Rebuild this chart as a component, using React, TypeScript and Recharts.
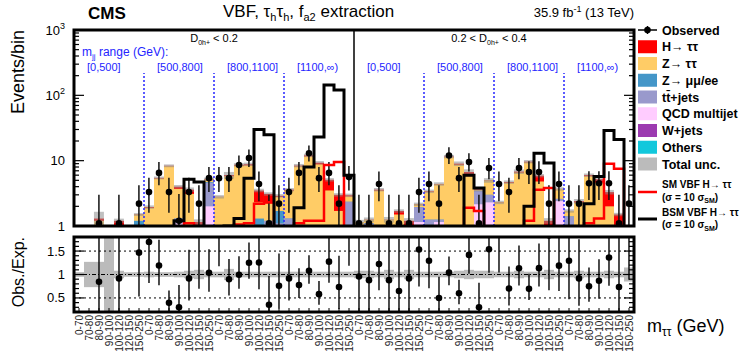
import * as React from "react"
import { Bar, ComposedChart, Line, ReferenceLine, Scatter, XAxis, YAxis } from "recharts"

// 56 bins = 2 D0h+ slices x 4 mjj ranges x 7 mtautau bins
const mttBins = ["0-70", "70-80", "80-90", "90-100", "100-120", "120-150", "150-250"]
const mjjRanges = ["[0,500]", "[500,800]", "[800,1100]", "[1100,∞)"]

// expected yields per process (events/bin)
const qcd = [
  0, 0, 0, 0, 0, 0, 0,
  0, 0, 0, 1.1, 0, 0, 1.95,
  0.2, 0, 0, 0, 0, 0, 0,
  0, 0, 0, 0, 0, 0, 0.4,
  0.25, 0.3, 0, 0.25, 0, 0.5, 1.1,
  0, 1.15, 0, 0, 0, 2.1, 2.3,
  0, 0, 0, 0, 0, 0, 2.4,
  0.6, 0, 0, 0, 0, 0, 0,
]
const ttbar = [
  0.1, 0.2, 0.4, 0, 0.1, 0, 1.0,
  0.3, 0.2, 0.2, 0.2, 0.1, 0.1, 2.6,
  0.4, 0.3, 0.2, 0.2, 0, 1.2, 1.1,
  1.3, 0.3, 0.3, 0.3, 0.2, 0.2, 1.9,
  0.6, 0.8, 0.2, 0.6, 0.2, 0.3, 0.8,
  1.25, 0.1, 0.3, 0.2, 0.3, 1.3, 0.7,
  0.2, 0.2, 0.2, 0.3, 0.2, 0.1, 0.2,
  0.8, 0.2, 0.2, 0.2, 0.2, 0.1, 0.1,
]
const zll = [
  0, 0, 0, 0, 0, 0, 0.2,
  0, 0, 0, 0, 0, 0, 0.1,
  0, 0, 0, 0, 1.3, 0, 0.6,
  0, 0, 0, 0, 0, 0, 0,
  0, 0, 0, 0, 0, 0, 0,
  0, 0, 0, 0, 0, 0, 0,
  0, 0, 0, 0, 0, 0, 0,
  0, 0, 0, 0, 0, 0, 0,
]
const ztt = [
  0.2, 0.6, 0.8, 0.2, 0.9, 0.5, 0.3,
  1.6, 5.1, 8.0, 2.4, 3.0, 0.4, 0.45,
  2.2, 5.5, 8.2, 8.3, 1.0, 1.0, 1.1,
  2.2, 7.9, 11.3, 8.5, 3.3, 1.5, 0.5,
  0.3, 0.15, 3.3, 0.4, 1.3, 0.2, 0.2,
  2.1, 3.1, 11, 8.5, 5.5, 0.1, 2.0,
  2.1, 4.4, 6.4, 9.1, 4.6, 0.3, 1.1,
  0.3, 2.1, 5.6, 4.4, 1.8, 0.6, 0.4,
]
const htt = [
  0, 0, 0.1, 0, 0.2, 0.05, 0,
  0.05, 0.1, 0.1, 0.3, 0.5, 0.65, 0.05,
  0, 0.2, 0.2, 0.3, 1.2, 0.9, 0.1,
  0.1, 0.2, 0.4, 0.5, 1.6, 1.3, 0.1,
  0, 0, 0.1, 0, 0.2, 0.2, 0,
  0.05, 0.05, 0.2, 0.3, 0.9, 0.1, 0,
  0, 0.1, 0.2, 0.2, 1.1, 0.8, 0,
  0, 0.1, 0.2, 0.6, 1.3, 0.8, 0.4,
]
const wjets = [
  0, 0, 0, 0, 0, 0, 0,
  0, 0, 0, 0, 0, 0, 0.05,
  0, 0, 0, 0, 0, 0, 0,
  0, 0, 0, 0, 0, 0, 0.05,
  0, 0, 0, 0, 0, 0, 0.05,
  0, 0, 0, 0, 0, 0.05, 0,
  0, 0, 0, 0, 0, 0, 0,
  0, 0, 0, 0, 0, 0, 0,
]
const others = [
  0, 0, 0, 0, 0, 0, 0,
  0, 0.05, 0.05, 0, 0, 0, 0,
  0, 0, 0.05, 0, 0, 0, 0,
  0, 0, 0.05, 0, 0, 0, 0,
  0, 0, 0, 0, 0, 0, 0,
  0, 0, 0.05, 0, 0, 0, 0,
  0, 0, 0, 0.05, 0, 0, 0,
  0, 0, 0, 0, 0, 0, 0,
]
// relative total uncertainty of the expectation
const uncRel = [
  0.05, 0.27, 0.27, 1.0, 0.08, 0.05, 0.05,
  0.06, 0.05, 0.05, 0.06, 0.08, 0.1, 0.06,
  0.06, 0.12, 0.06, 0.06, 0.06, 0.06, 0.06,
  0.06, 0.06, 0.06, 0.06, 0.06, 0.06, 0.06,
  0.08, 0.08, 0.06, 0.1, 0.06, 0.1, 0.06,
  0.06, 0.06, 0.06, 0.08, 0.1, 0.08, 0.08,
  0.06, 0.06, 0.08, 0.06, 0.06, 0.1, 0.06,
  0.06, 0.08, 0.06, 0.06, 0.08, 0.06, 0.15,
]
// signal templates (sigma = 10 sigma_SM)
const smVbf = [
  0.05, 0.05, 0.1, 0.05, 0.2, 0.1, 0.1,
  0.2, 0.3, 0.4, 0.6, 1.1, 0.8, 0.3,
  0.3, 0.6, 1.05, 1.1, 2.2, 2.3, 0.4,
  0.3, 1.1, 1.2, 1.2, 8.6, 9.5, 0.9,
  0.05, 0.05, 0.1, 0.1, 0.2, 0.2, 0.1,
  0.1, 0.2, 0.3, 0.5, 1.9, 1.7, 0.2,
  0.1, 0.2, 0.3, 1.2, 3.6, 3.8, 0.2,
  0.1, 0.2, 1.1, 1.3, 9.0, 7.5, 0.1,
]
const bsmVbf = [
  0.05, 0.05, 0.1, 0.05, 0.2, 0.1, 0.1,
  0.3, 0.4, 0.6, 1.2, 5.2, 4.7, 0.3,
  0.5, 1.0, 1.3, 5.4, 30, 25, 0.5,
  0.9, 1.9, 8, 23, 144, 121, 6,
  0.05, 0.05, 0.1, 0.1, 0.2, 0.2, 0.1,
  0.1, 0.2, 0.3, 0.5, 6, 3.8, 0.3,
  0.1, 0.2, 0.3, 2.0, 13, 9.2, 0.2,
  0.1, 0.3, 2.2, 5.7, 29, 21, 0.1,
]
// observed data with asymmetric error bar ends
const observed = [
  null, null, 1.1, null, 1.1, null, 2.2,
  3.3, 6.5, 3.3, 1.2, 3.3, 2.2, 5.4,
  5.4, 5.4, 8.6, 11, 4.4, 1.1, 2.2,
  3.3, 6.5, 13, 5.4, 6.5, 2.2, 5.6,
  1.1, 1.1, 4.4, 1.1, 1.1, 1.1, 3.3,
  4.4, 2.2, 12, 5.4, 9.5, 1.1, 7.7,
  4.4, 3.3, 7.7, 6.7, 6.7, 2.2, 4.4,
  2.2, 2.2, 4.5, 4.5, 4.5, 1.1, 2.2,
]
const obsLow = [
  null, null, 0.2, null, 0.2, null, 0.8,
  1.6, 4.2, 1.6, 0.25, 1.6, 0.8, 3.3,
  3.3, 3.3, 6.0, 8.0, 2.4, 0.2, 0.8,
  1.6, 4.2, 9.7, 3.3, 4.2, 0.8, 3.5,
  0.2, 0.2, 2.4, 0.2, 0.2, 0.2, 1.6,
  2.4, 0.8, 8.9, 3.3, 6.8, 0.2, 5.2,
  2.4, 1.6, 5.2, 4.4, 4.4, 0.8, 2.4,
  0.8, 0.8, 2.5, 2.5, 2.5, 0.2, 0.8,
]
const obsHigh = [
  null, null, 3.0, null, 3.0, null, 4.2,
  5.5, 9.5, 5.5, 3.1, 5.5, 4.2, 8.0,
  8.0, 8.0, 12, 14.8, 6.8, 3.0, 4.2,
  5.5, 9.5, 17, 8.0, 9.5, 4.2, 8.3,
  3.0, 3.0, 6.8, 3.0, 3.0, 3.0, 5.5,
  6.8, 4.2, 16, 8.0, 13, 3.0, 11,
  6.8, 5.5, 11, 9.8, 9.8, 4.2, 6.8,
  4.2, 4.2, 6.9, 6.9, 6.9, 3.0, 4.2,
]

const logTicks = [1, 2, 3, 4, 5, 6, 7, 8, 9, 10, 20, 30, 40, 50, 60, 70, 80, 90, 100, 200, 300, 400, 500, 600, 700, 800, 900, 1000]
const ratioTicks = [0.3, 0.4, 0.5, 0.6, 0.7, 0.8, 0.9, 1, 1.1, 1.2, 1.3, 1.4, 1.5, 1.6, 1.7]
const ratioMajor = [0.5, 1, 1.5]

const C = {
  htt: "#ff0000",
  ztt: "#ffcc66",
  zll: "#4496c8",
  tt: "#9999cc",
  qcd: "#ffccff",
  w: "#9c3ab0",
  oth: "#12c8dc",
  unc: "#bbbbbb",
  blue: "#2424ff",
}
const FONT = "'Liberation Sans', Arial, Helvetica, sans-serif"
const W = 747
const PLOT_L = 74
const PLOT_W = 560
const TOP_Y = 30
const TOP_H = 196
const RAT_Y = 237
const RAT_H = 75

const shown = (v: number) => (v > 1 ? v : null)

const rows = ttbar.map((_, i) => {
  const c1 = others[i]
  const c2 = c1 + wjets[i]
  const c3 = c2 + qcd[i]
  const c4 = c3 + ttbar[i]
  const c5 = c4 + zll[i]
  const c6 = c5 + ztt[i]
  const tot = c6 + htt[i]
  const u = uncRel[i]
  const obs = observed[i]
  const lo = obsLow[i]
  const hi = obsHigh[i]
  return {
    key: String(i),
    label: mttBins[i % 7],
    c1: shown(c1), c2: shown(c2), c3: shown(c3), c4: shown(c4), c5: shown(c5), c6: shown(c6), tot: shown(tot),
    unc: tot * (1 + u) > 1 ? [Math.max(tot * (1 - u), 0.1), tot * (1 + u)] : null,
    sm: smVbf[i],
    bsm: bsmVbf[i],
    obs,
    obsErr: obs != null && lo != null && hi != null ? [lo, hi] : null,
    band: [Math.max(1 - u, 0.01), 1 + u],
    ratio: obs != null ? obs / tot : null,
    ratioErr: obs != null && lo != null && hi != null ? [Math.max(lo / tot, 0.01), hi / tot] : null,
  }
})

function LogTick(props: any) {
  const { x, y, payload, right } = props
  const v = payload.value
  const e = Math.log10(v)
  const major = Math.abs(e - Math.round(e)) < 1e-6
  const len = major ? 10 : 5
  const dir = right ? -1 : 1
  return (
    <g>
      <line x1={x} x2={x + dir * len} y1={y} y2={y} stroke="#000" strokeWidth={1.2} />
      {!right && major && (
        <text x={x - 9} y={y + 4.5} textAnchor="end" fontSize={13} fontFamily={FONT} fill="#000">
          {v < 100 ? String(v) : <>10<tspan dy={-6} fontSize={9}>{Math.round(e)}</tspan></>}
        </text>
      )}
    </g>
  )
}

function RatioTick(props: any) {
  const { x, y, payload, right } = props
  const v = payload.value
  const major = ratioMajor.some((m) => Math.abs(m - v) < 1e-6)
  const len = major ? 10 : 5
  const dir = right ? -1 : 1
  return (
    <g>
      <line x1={x} x2={x + dir * len} y1={y} y2={y} stroke="#000" strokeWidth={1.2} />
      {!right && major && (
        <text x={x - 9} y={y + 4.5} textAnchor="end" fontSize={13} fontFamily={FONT} fill="#000">
          {String(v)}
        </text>
      )}
    </g>
  )
}

function BinTick(props: any) {
  const { x, y, payload } = props
  const row = rows[Number(payload.value)]
  return (
    <g>
      <line x1={x} x2={x} y1={y} y2={y - 4} stroke="#000" />
      <text
        transform={`translate(${x + 3.5},${y + 3}) rotate(-90)`}
        textAnchor="end"
        fontSize={10}
        fontFamily={FONT}
        fill="#222"
      >
        {row ? row.label : ""}
      </text>
    </g>
  )
}

const ErrLine = (p: any) => {
  if (p.height == null || isNaN(p.y)) return <g />
  const cx = p.x + p.width / 2
  return <line x1={cx} x2={cx} y1={p.y} y2={p.y + p.height} stroke="#111" strokeWidth={1.5} />
}

const Dot = (p: any) => {
  if (p.cy == null || isNaN(p.cy) || p.payload?.[p.dk] == null) return <g />
  return <circle cx={p.cx} cy={p.cy} r={3.3} fill="#000" />
}

const legendBoxes = [
  { label: "H→ ττ", color: C.htt },
  { label: "Z→ ττ", color: C.ztt },
  { label: "Z→ μμ/ee", color: C.zll },
  { label: "tt̄+jets", color: C.tt },
  { label: "QCD multijet", color: C.qcd },
  { label: "W+jets", color: C.w },
  { label: "Others", color: C.oth },
  { label: "Total unc.", color: C.unc },
]

const BS = 9.99

function TopPanel() {
  const dividers = [7, 14, 21, 35, 42, 49]
  return (
    <ComposedChart
      width={W}
      height={232}
      data={rows}
      margin={{ top: TOP_Y, right: 0, bottom: 6, left: 0 }}
      barGap={-10}
      barSize={BS}
    >
      <XAxis dataKey="key" hide />
      <YAxis
        scale="log"
        domain={[1, 1000]}
        allowDataOverflow
        ticks={logTicks}
        interval={0}
        width={PLOT_L}
        tickSize={0}
        tickMargin={0}
        tickLine={false}
        axisLine={false}
        tick={(p: any) => <LogTick {...p} />}
      />
      <YAxis
        yAxisId="r"
        orientation="right"
        scale="log"
        domain={[1, 1000]}
        allowDataOverflow
        ticks={logTicks}
        interval={0}
        width={W - PLOT_L - PLOT_W}
        tickSize={0}
        tickMargin={0}
        tickLine={false}
        axisLine={false}
        tick={(p: any) => <LogTick {...p} right />}
      />
      <Bar dataKey="tot" fill={C.htt} barSize={BS} isAnimationActive={false} />
      <Bar dataKey="c6" fill={C.ztt} barSize={BS} isAnimationActive={false} />
      <Bar dataKey="c5" fill={C.zll} barSize={BS} isAnimationActive={false} />
      <Bar dataKey="c4" fill={C.tt} barSize={BS} isAnimationActive={false} />
      <Bar dataKey="c3" fill={C.qcd} barSize={BS} isAnimationActive={false} />
      <Bar dataKey="c2" fill={C.w} barSize={BS} isAnimationActive={false} />
      <Bar dataKey="c1" fill={C.oth} barSize={BS} isAnimationActive={false} />
      <Bar dataKey="unc" fill="#8c8c8c" fillOpacity={0.55} barSize={BS} isAnimationActive={false} />
      {dividers.map((d) => (
        <ReferenceLine
          key={d}
          segment={[{ x: String(d), y: 1 }, { x: String(d), y: 220 }]}
          position="start"
          stroke={C.blue}
          strokeWidth={1.5}
          strokeDasharray="2 2"
        />
      ))}
      <ReferenceLine x="28" position="start" stroke="#000" strokeWidth={1.5} />
      <Line type="step" dataKey="sm" stroke="#ff0000" strokeWidth={2.5} dot={false} isAnimationActive={false} />
      <Line type="step" dataKey="bsm" stroke="#000" strokeWidth={3} dot={false} isAnimationActive={false} />
      <Bar dataKey="obsErr" barSize={BS} shape={ErrLine} isAnimationActive={false} />
      <Scatter dataKey="obs" shape={(p: any) => <Dot {...p} dk="obs" />} isAnimationActive={false} />
    </ComposedChart>
  )
}

function RatioPanel() {
  return (
    <ComposedChart
      width={W}
      height={125}
      data={rows}
      margin={{ top: 5, right: 0, bottom: 0, left: 0 }}
      barGap={-10}
      barSize={BS}
    >
      <XAxis
        dataKey="key"
        interval={0}
        height={45}
        tickSize={0}
        tickMargin={0}
        tickLine={false}
        axisLine={false}
        tick={(p: any) => <BinTick {...p} />}
      />
      <YAxis
        domain={[0.2, 1.8]}
        allowDataOverflow
        ticks={ratioTicks}
        interval={0}
        width={PLOT_L}
        tickSize={0}
        tickMargin={0}
        tickLine={false}
        axisLine={false}
        tick={(p: any) => <RatioTick {...p} />}
      />
      <YAxis
        yAxisId="r"
        orientation="right"
        domain={[0.2, 1.8]}
        allowDataOverflow
        ticks={ratioTicks}
        interval={0}
        width={W - PLOT_L - PLOT_W}
        tickSize={0}
        tickMargin={0}
        tickLine={false}
        axisLine={false}
        tick={(p: any) => <RatioTick {...p} right />}
      />
      <Bar dataKey="band" fill={C.unc} barSize={BS} isAnimationActive={false} />
      <ReferenceLine y={1.5} stroke="#000" strokeDasharray="2 3" />
      <ReferenceLine y={1} stroke="#000" strokeDasharray="4 2 1 2" />
      <ReferenceLine y={0.5} stroke="#000" strokeDasharray="2 3" />
      <Bar dataKey="ratioErr" barSize={BS} shape={ErrLine} isAnimationActive={false} />
      <Scatter dataKey="ratio" shape={(p: any) => <Dot {...p} dk="ratio" />} isAnimationActive={false} />
    </ComposedChart>
  )
}

function Overlay() {
  const blockW = PLOT_W / 8
  const rowY = (k: number) => 46.75 + 16.75 * k
  return (
    <svg width={W} height={357} style={{ position: "absolute", left: 0, top: 0, pointerEvents: "none" }} fontFamily={FONT}>
      <rect x={PLOT_L} y={TOP_Y} width={PLOT_W} height={TOP_H} fill="none" stroke="#000" strokeWidth={3} />
      <rect x={PLOT_L} y={RAT_Y} width={PLOT_W} height={RAT_H} fill="none" stroke="#000" strokeWidth={3} />

      <text x={88} y={19} fontSize={17} fontWeight="bold">CMS</text>
      <text x={223} y={17} fontSize={17}>
        VBF, τ<tspan dy={4} fontSize={11}>h</tspan><tspan dy={-4}>τ</tspan><tspan dy={4} fontSize={11}>h</tspan>
        <tspan dy={-4}>, f</tspan><tspan dy={4} fontSize={11}>a2</tspan><tspan dy={-4}> extraction</tspan>
      </text>
      <text x={634} y={17} fontSize={13} textAnchor="end">
        35.9 fb<tspan dy={-5} fontSize={9}>-1</tspan><tspan dy={5}> (13 TeV)</tspan>
      </text>

      <text transform="translate(24,30) rotate(-90)" fontSize={18} textAnchor="end">Events/bin</text>
      <text transform="translate(24,237) rotate(-90)" fontSize={16} textAnchor="end">Obs./Exp.</text>
      <text x={647} y={332} fontSize={18}>
        m<tspan dy={4} fontSize={12}>ττ</tspan><tspan dy={-4}> (GeV)</tspan>
      </text>

      <text x={PLOT_L + blockW * 2} y={42} fontSize={11} textAnchor="middle">
        D<tspan dy={3} fontSize={7}>0h+</tspan><tspan dy={-3}> &lt; 0.2</tspan>
      </text>
      <text x={PLOT_L + blockW * 6 - 5} y={42} fontSize={11} textAnchor="middle">
        0.2 &lt; D<tspan dy={3} fontSize={7}>0h+</tspan><tspan dy={-3}> &lt; 0.4</tspan>
      </text>
      <text x={82} y={56} fontSize={12} fill={C.blue}>
        m<tspan dy={3} fontSize={8}>jj</tspan><tspan dy={-3}> range (GeV):</tspan>
      </text>
      {[0, 1].map((h) =>
        mjjRanges.map((r, k) => (
          <text key={`${h}-${k}`} x={PLOT_L + blockW * (h * 4 + k) + 13} y={71} fontSize={11} fill={C.blue}>
            {r}
          </text>
        ))
      )}

      {/* legend */}
      <line x1={638} x2={657} y1={30} y2={30} stroke="#000" strokeWidth={1.5} />
      <line x1={647.5} x2={647.5} y1={26} y2={34} stroke="#000" strokeWidth={1.5} />
      <circle cx={647.5} cy={30} r={3.3} fill="#000" />
      <text x={662} y={34.5} fontSize={12.5} fontWeight="bold">Observed</text>
      {legendBoxes.map((b, k) => (
        <g key={b.label}>
          <rect x={638} y={rowY(k) - 6.5} width={19} height={13} fill={b.color} />
          <text x={662} y={rowY(k) + 4.5} fontSize={12.5} fontWeight="bold">{b.label}</text>
        </g>
      ))}
      <line x1={638} x2={657} y1={192} y2={192} stroke="#ff0000" strokeWidth={2.5} />
      <text x={662} y={188} fontSize={10} fontWeight="bold">SM VBF H→ ττ</text>
      <text x={662} y={200.5} fontSize={10} fontWeight="bold">
        (σ = 10 σ<tspan dy={2.5} fontSize={7}>SM</tspan><tspan dy={-2.5}>)</tspan>
      </text>
      <line x1={638} x2={657} y1={219} y2={219} stroke="#000" strokeWidth={3} />
      <text x={662} y={215.5} fontSize={10} fontWeight="bold">BSM VBF H→ ττ</text>
      <text x={662} y={228} fontSize={10} fontWeight="bold">
        (σ = 10 σ<tspan dy={2.5} fontSize={7}>SM</tspan><tspan dy={-2.5}>)</tspan>
      </text>
    </svg>
  )
}

export default function App() {
  return (
    <div style={{ position: "absolute", left: 0, top: 0, width: W, height: 357, background: "#fff", fontFamily: FONT }}>
      <div style={{ position: "absolute", left: 0, top: 0 }}>
        <TopPanel />
      </div>
      <div style={{ position: "absolute", left: 0, top: 232 }}>
        <RatioPanel />
      </div>
      <Overlay />
    </div>
  )
}
